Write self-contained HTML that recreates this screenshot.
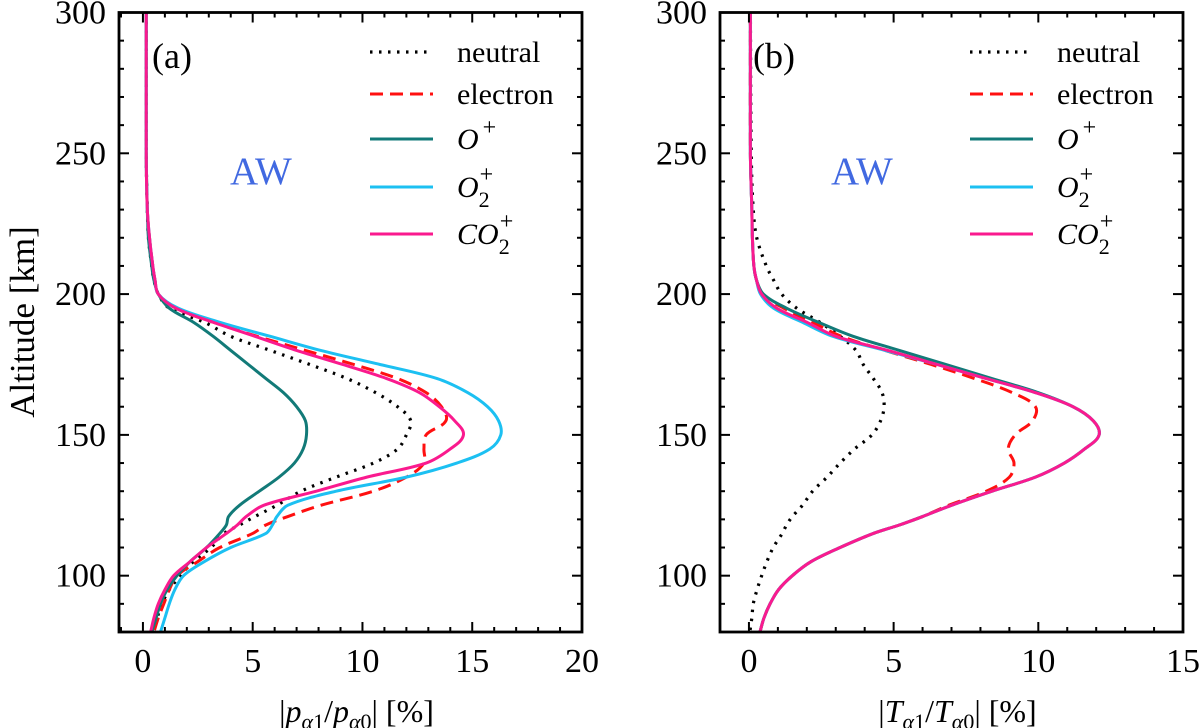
<!DOCTYPE html>
<html><head><meta charset="utf-8">
<style>
html,body{margin:0;padding:0;background:#fff;}
svg{display:block;font-family:"Liberation Serif",serif;}
</style></head>
<body>
<svg id="chart" width="1200" height="728" viewBox="0 0 1200 728" xmlns="http://www.w3.org/2000/svg">
<g id="gA"></g>
<g id="gB"></g>
<text x="0" y="0" transform="translate(34,322) rotate(-90)" text-anchor="middle" font-size="35">Altitude [km]</text>
</svg>
<script>
const altitudes = [300,250,230,220,210,205,200,195,190,185,180,175,170,165,160,155,150,145,140,135,130,125,121,118,115,110,105,100,95,90,85,80];
// Panel (a) |p1/p0| [%]
const aNeutral  = [0.15,0.15,0.2,0.25,0.4,0.5,0.7,1.2,2.8,4.0,5.8,7.6,9.3,10.6,11.6,12.2,12.0,11.6,10.5,8.8,7.2,6.1,5.1,4.4,3.7,3.1,2.3,1.7,1.2,0.86,0.65,0.5];
const aElectron = [0.15,0.15,0.2,0.3,0.45,0.55,0.7,1.5,3.2,5.2,7.4,9.6,11.6,12.9,13.6,13.8,12.9,12.8,12.8,12.0,10.5,8.1,6.6,5.6,5.0,3.5,2.5,1.55,1.2,0.95,0.7,0.5];
const aOp       = [0.15,0.15,0.2,0.25,0.4,0.5,0.7,1.2,2.3,3.2,4.0,4.8,5.6,6.4,7.0,7.4,7.45,7.3,6.9,6.2,5.3,4.4,3.9,3.8,3.5,2.9,2.15,1.55,1.1,0.8,0.6,0.4];
const aO2p      = [0.15,0.15,0.2,0.3,0.45,0.55,0.7,1.6,3.5,5.8,8.1,10.8,13.4,14.8,15.7,16.2,16.3,15.8,14.3,12.0,8.8,6.6,6.1,5.9,5.6,4.0,2.8,1.85,1.45,1.2,1.0,0.8];
const aCO2p     = [0.15,0.15,0.2,0.3,0.45,0.55,0.7,1.5,3.2,5.1,7.0,9.1,11.1,12.6,13.5,14.2,14.6,14.0,12.9,10.2,7.9,5.5,4.7,4.3,3.8,2.9,2.15,1.4,1.0,0.7,0.5,0.35];
// Panel (b) |T1/T0| [%]
const bNeutral  = [0.05,0.08,0.15,0.27,0.6,0.85,1.13,1.65,2.45,3.15,3.7,3.95,4.3,4.6,4.67,4.55,4.25,3.65,3.15,2.7,2.2,1.85,1.5,1.3,1.15,0.84,0.62,0.44,0.28,0.15,0.1,0.03];
const bElectron = [0.05,0.05,0.1,0.12,0.17,0.26,0.45,1.2,2.2,3.2,4.7,6.3,7.8,9.1,9.9,9.8,9.2,8.96,9.16,9.0,8.2,6.9,6.0,5.2,4.3,3.15,2.15,1.5,1.02,0.73,0.52,0.38];
const bOp       = [0.05,0.05,0.1,0.12,0.17,0.26,0.5,1.3,2.4,3.6,5.2,6.8,8.4,10.0,11.2,11.9,12.1,11.6,10.9,9.9,8.4,7.0,6.0,5.2,4.3,3.15,2.15,1.5,1.02,0.73,0.52,0.38];
const bO2p      = [0.05,0.05,0.1,0.12,0.17,0.26,0.4,0.85,1.85,2.9,4.7,6.5,8.2,9.9,11.2,11.9,12.1,11.6,10.9,9.9,8.4,7.0,6.0,5.2,4.3,3.15,2.15,1.5,1.02,0.73,0.52,0.38];
const bCO2p     = [0.05,0.05,0.1,0.12,0.17,0.26,0.44,0.96,2.0,3.0,4.8,6.5,8.2,9.9,11.2,11.9,12.1,11.6,10.9,9.9,8.4,7.0,6.0,5.2,4.3,3.15,2.15,1.5,1.02,0.73,0.52,0.38];
const yTicks = [100,150,200,250,300];
const aXTicks = [0,5,10,15,20];
const bXTicks = [0,5,10,15];
const legendLabels = ['neutral','electron','O+','O2+','CO2+'];

const NS='http://www.w3.org/2000/svg';
function mk(tag,attrs,parent){const e=document.createElementNS(NS,tag);for(const k in attrs)e.setAttribute(k,attrs[k]);parent.appendChild(e);return e;}
const TOP=12.5,BOT=632,AMIN=80,AMAX=300;
function yS(a){return BOT-(a-AMIN)/(AMAX-AMIN)*(BOT-TOP);}
function smoothPath(pts){
  let d='M'+pts[0][0].toFixed(2)+','+pts[0][1].toFixed(2);
  const dist=(a,b)=>Math.hypot(a[0]-b[0],a[1]-b[1])||1e-6;
  for(let i=0;i<pts.length-1;i++){
    const p0=pts[Math.max(0,i-1)],p1=pts[i],p2=pts[i+1],p3=pts[Math.min(pts.length-1,i+2)];
    const L=dist(p1,p2);
    const d1=dist(p0,p2),d2=dist(p1,p3);
    const c1=[p1[0]+(p2[0]-p0[0])*L/(3*d1),p1[1]+(p2[1]-p0[1])*L/(3*d1)];
    const c2=[p2[0]-(p3[0]-p1[0])*L/(3*d2),p2[1]-(p3[1]-p1[1])*L/(3*d2)];
    d+=' C'+c1[0].toFixed(2)+','+c1[1].toFixed(2)+' '+c2[0].toFixed(2)+','+c2[1].toFixed(2)+' '+p2[0].toFixed(2)+','+p2[1].toFixed(2);
  }
  return d;
}
const styles=[
 {c:'#000',w:3.2,da:'2.5 6.5',cap:'butt'},
 {c:'#ff1010',w:3,da:'13 7',cap:'butt'},
 {c:'#127a78',w:3,da:'',cap:'round'},
 {c:'#1cc0f2',w:3,da:'',cap:'round'},
 {c:'#fa1a8e',w:3,da:'',cap:'round'}];
const seriesNames=['neutral-line','electron-line','o-plus-line','o2-plus-line','co2-plus-line'];
const legendNames=['legend-neutral','legend-electron','legend-o-plus','legend-o2-plus','legend-co2-plus'];

function panel(g,L,R,xmin,xmax,xTicks,series,label,title,ox){
  const xS=v=>L+(v-xmin)/(xmax-xmin)*(R-L);
  const clip=mk('clipPath',{id:'clip'+label},g);
  mk('rect',{x:L,y:TOP,width:R-L,height:BOT-TOP},clip);
  const lines=mk('g',{'clip-path':'url(#clip'+label+')'},g);
  
  
  series.forEach((vals,k)=>{
    const pts=vals.map((v,i)=>[xS(v),yS(altitudes[i])]);
    const s=styles[k];
    const p=mk('path',{d:smoothPath(pts),fill:'none',stroke:s.c,'stroke-width':s.w,'stroke-dasharray':s.da,'stroke-linecap':s.cap},lines);
    
    
  });
  const tg=mk('g',{stroke:'#000','stroke-width':2},g);
  
  
  for(let v=Math.ceil(xmin);v<=xmax;v++){
    const x=xS(v),len=(v%5===0)?10:5;
    mk('line',{x1:x,y1:BOT,x2:x,y2:BOT-len},tg);
    mk('line',{x1:x,y1:TOP,x2:x,y2:TOP+len},tg);
  }
  for(let a=AMIN;a<=AMAX;a+=10){
    const y=yS(a),len=(a%50===0)?10:5;
    mk('line',{x1:L,y1:y,x2:L+len,y2:y},tg);
    mk('line',{x1:R,y1:y,x2:R-len,y2:y},tg);
  }
  const frame=mk('rect',{x:L,y:TOP,width:R-L,height:BOT-TOP,fill:'none',stroke:'#000','stroke-width':2.8},g);
  
  
  xTicks.forEach(v=>{
    const t=mk('text',{x:xS(v),y:672,'text-anchor':'middle','font-size':34},g);
    t.textContent=v;
    
    
  });
  yTicks.forEach(a=>{
    const t=mk('text',{x:L-13,y:yS(a)+11,'text-anchor':'end','font-size':34},g);
    t.textContent=a;
    
    
  });
  const pl=mk('text',{x:L+33,y:68,'font-size':36},g);
  pl.textContent='('+label+')';
  
  
  const aw=mk('text',{x:L+111,y:184,'font-size':39,fill:'#4169e1'},g);
  aw.textContent='AW';
  
  
  const lg=mk('g',{},g);
  
  
  const rows=[52,94,139,187,234];
  rows.forEach((ry,k)=>{
    const s=styles[k];
    const eg=mk('g',{},lg);
    
    
    mk('line',{x1:370+ox,y1:ry,x2:433+ox,y2:ry,stroke:s.c,'stroke-width':s.w,'stroke-dasharray':s.da},eg);
    const t=mk('text',{x:457+ox,y:ry+10,'font-size':30},eg);
    if(k<2){t.textContent=legendLabels[k];}
    else{
      t.setAttribute('font-style','italic');
      const base=k===2?'O':(k===3?'O':'CO');
      t.appendChild(document.createTextNode(base));
      if(k>2){
        const sb=mk('tspan',{'font-size':22,'font-style':'normal',dy:10},t);sb.textContent='2';
        const sp=mk('tspan',{'font-size':24,'font-style':'normal',dy:-25,dx:-10},t);sp.textContent='+';
      } else {
        const sp=mk('tspan',{'font-size':24,'font-style':'normal',dy:-14,dx:4},t);sp.textContent='+';
      }
    }
  });
  const xt=mk('text',{x:(L+R)/2+6,y:722,'text-anchor':'middle','font-size':32},g);
  
  
  xt.innerHTML=title;
}
panel(document.getElementById('gA'),119,582,-1.09,20,aXTicks,[aNeutral,aElectron,aOp,aO2p,aCO2p],'a',
 '|<tspan font-style="italic">p</tspan><tspan font-size="22" dy="7" font-style="italic">α</tspan><tspan font-size="22">1</tspan><tspan dy="-7">/</tspan><tspan font-style="italic">p</tspan><tspan font-size="22" dy="7" font-style="italic">α</tspan><tspan font-size="22">0</tspan><tspan dy="-7">| [%]</tspan>',0);
panel(document.getElementById('gB'),720,1183,-1.0,15,bXTicks,[bNeutral,bElectron,bOp,bO2p,bCO2p],'b',
 '|<tspan font-style="italic">T</tspan><tspan font-size="22" dy="7" font-style="italic">α</tspan><tspan font-size="22">1</tspan><tspan dy="-7">/</tspan><tspan font-style="italic">T</tspan><tspan font-size="22" dy="7" font-style="italic">α</tspan><tspan font-size="22">0</tspan><tspan dy="-7">| [%]</tspan>',600);
</script>
</body></html>
